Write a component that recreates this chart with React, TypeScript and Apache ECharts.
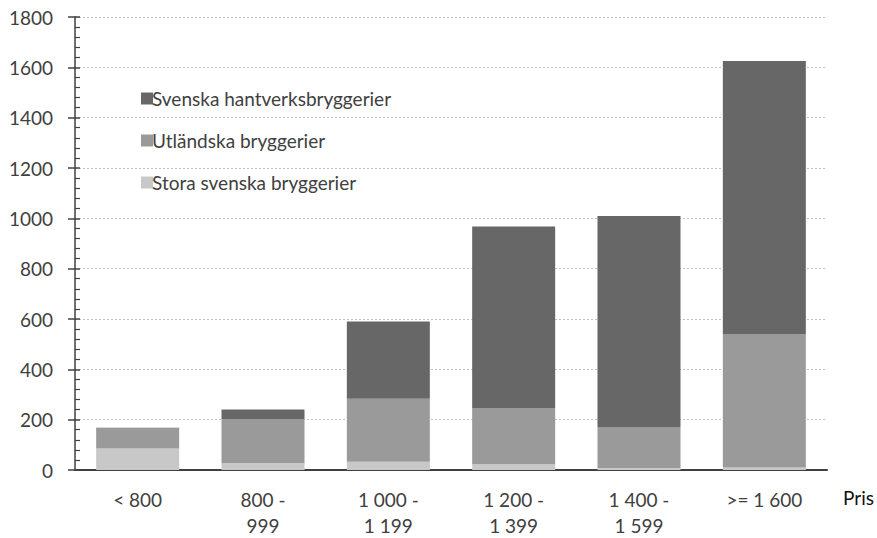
import React, { useEffect, useRef } from "react";
import * as echarts from "echarts";

const categories = ["< 800", "800 -\n999", "1 000 -\n1 199", "1 200 -\n1 399", "1 400 -\n1 599", ">= 1 600"];
const storaSvenska = [85, 27, 33, 23, 8, 10];
const utlandska = [80, 176, 250, 221, 161, 530];
const svenskaHantverk = [3, 37, 307, 724, 840, 1085];
const seriesNames = ["Svenska hantverksbryggerier", "Utländska bryggerier", "Stora svenska bryggerier"];
const yTicks = { min: 0, max: 1800, interval: 200 };

const FONT = "Lato";
const TXT = "#404040";
const FS = 19;

export default function App() {
  const ref = useRef<HTMLDivElement>(null);
  useEffect(() => {
    if (!ref.current) return;
    const chart = echarts.init(ref.current, undefined, { renderer: "svg" });
    const legendCommon = {
      orient: "vertical" as const,
      left: 136,
      itemWidth: 12,
      itemHeight: 12,
      itemGap: 4,
      icon: "rect",
      textStyle: { fontFamily: FONT, fontSize: FS, color: TXT, padding: [0, 0, 0, -6] },
      selectedMode: false,
    };
    chart.setOption({
      animation: false,
      textStyle: { fontFamily: FONT },
      grid: { left: 75, right: 50, top: 17, bottom: 64, containLabel: false },
      legend: [
        { ...legendCommon, top: 84, data: [seriesNames[0]] },
        { ...legendCommon, top: 126, data: [seriesNames[1]] },
        { ...legendCommon, top: 168, data: [seriesNames[2]] },
      ],
      xAxis: {
        type: "category",
        data: categories,
        name: "Pris",
        nameLocation: "end",
        nameGap: 16,
        nameTextStyle: { fontFamily: FONT, fontSize: FS, color: "#111", verticalAlign: "top", padding: [18, 0, 0, 0] },
        axisLine: { lineStyle: { color: "#404040", width: 2 } },
        axisTick: { show: false },
        axisLabel: { fontFamily: FONT, fontSize: FS, color: TXT, margin: 16, lineHeight: 26, interval: 0 },
        splitLine: { show: false },
      },
      yAxis: [
        {
          type: "value",
          ...yTicks,
          axisLine: { show: true, lineStyle: { color: "#404040", width: 1.5 } },
          axisTick: { show: true, inside: false, length: 7, lineStyle: { color: "#404040", width: 1.5 } },
          axisLabel: { fontFamily: FONT, fontSize: FS, color: TXT, margin: 22, formatter: (v: number) => String(v) },
          splitLine: { show: true, lineStyle: { color: "#bfbfbf", type: [2, 2], width: 1 } },
        },
        {
          type: "value",
          ...yTicks,
          position: "left",
          axisLine: { show: false },
          axisTick: { show: true, inside: true, length: 5, lineStyle: { color: "#404040", width: 1.5 } },
          minorTick: { show: true, splitNumber: 5, length: 5, lineStyle: { color: "#404040", width: 1.2 } },
          axisLabel: { show: false },
          splitLine: { show: false },
        },
      ],
      series: [
        {
          name: seriesNames[2],
          type: "bar",
          stack: "total",
          data: storaSvenska,
          barWidth: 83,
          itemStyle: { color: "#c8c8c8" },
        },
        {
          name: seriesNames[1],
          type: "bar",
          stack: "total",
          data: utlandska,
          barWidth: 83,
          itemStyle: { color: "#9a9a9a" },
        },
        {
          name: seriesNames[0],
          type: "bar",
          stack: "total",
          data: svenskaHantverk,
          barWidth: 83,
          itemStyle: { color: "#676767" },
        },
      ],
    });
    return () => chart.dispose();
  }, []);
  return <div ref={ref} style={{ width: 877, height: 538, position: "absolute", left: 0, top: 0 }} />;
}
